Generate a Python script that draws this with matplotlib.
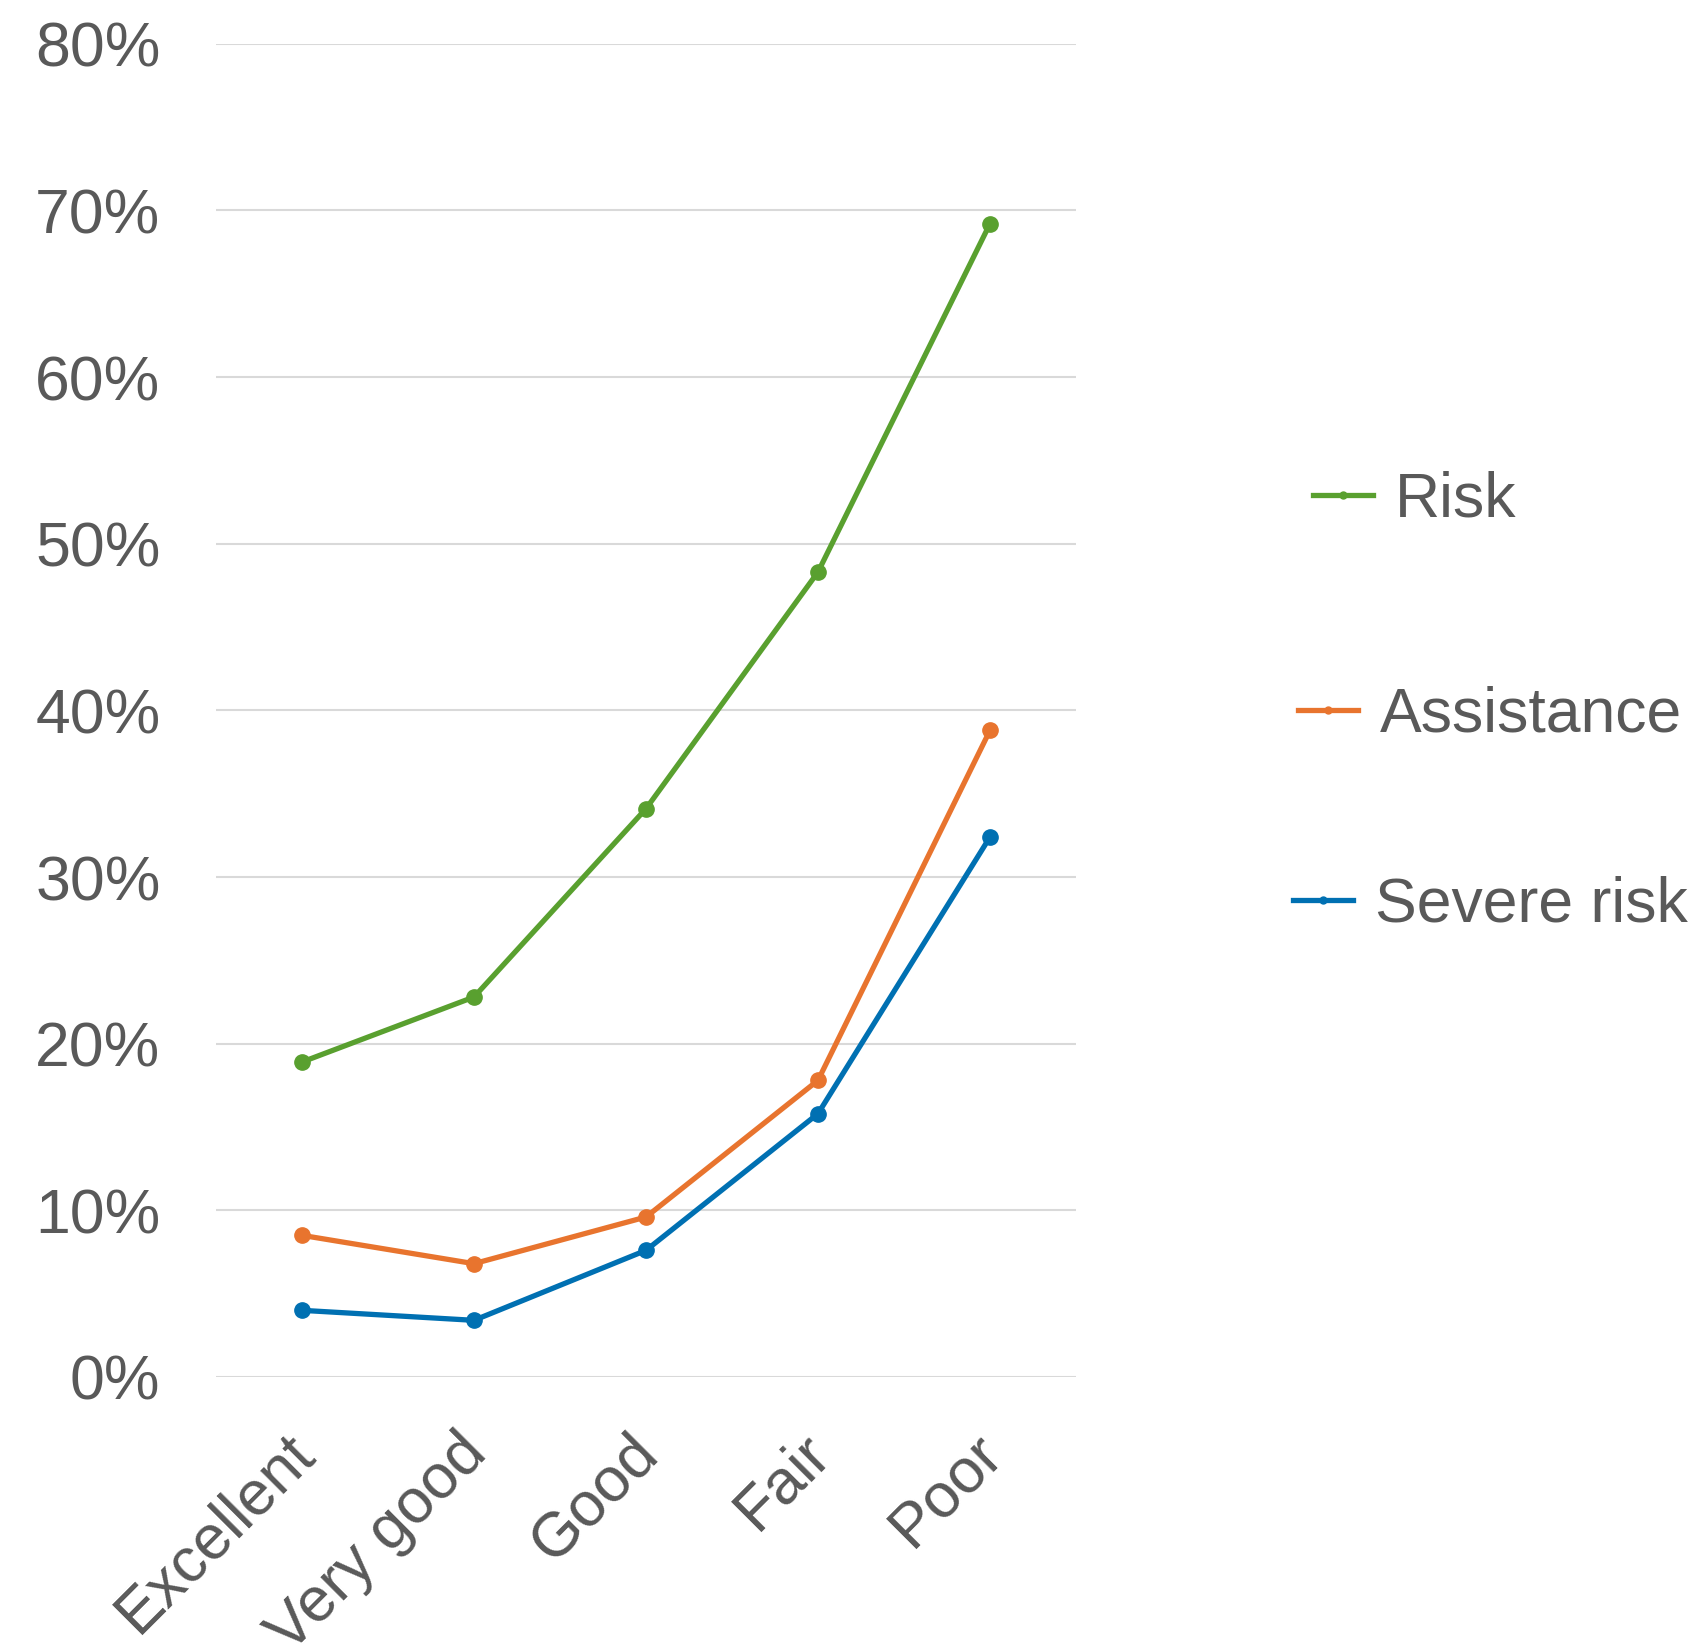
import matplotlib
matplotlib.use("Agg")
import matplotlib.pyplot as plt
from matplotlib.lines import Line2D
from matplotlib.ticker import FuncFormatter, MultipleLocator
import matplotlib.transforms as mtransforms

categories = ["Excellent", "Very good", "Good", "Fair", "Poor"]
risk = [18.9, 22.8, 34.1, 48.3, 69.2]
assistance = [8.5, 6.8, 9.6, 17.8, 38.8]
severe_risk = [4.0, 3.4, 7.6, 15.8, 32.4]

series = [
    ("Risk", risk, "#59A02F"),
    ("Assistance", assistance, "#E8742E"),
    ("Severe risk", severe_risk, "#0070B2"),
]

plt.rcParams['font.family'] = ['Liberation Sans', 'DejaVu Sans']
text_color = "#595959"

fig = plt.figure(figsize=(17.02, 16.51), dpi=100)
ax = fig.add_axes([216/1702, 1-1377/1651, (1076-216)/1702, (1377-43.7)/1651])

x = list(range(len(categories)))
for name, vals, col in series:
    ax.plot(x, vals, color=col, lw=3.8, marker='o', markersize=11,
            solid_capstyle='round', label=name, zorder=3)

ax.set_xlim(-0.5, len(categories)-0.5)
ax.set_ylim(0, 80)
ax.yaxis.set_major_locator(MultipleLocator(10))
ax.yaxis.set_major_formatter(FuncFormatter(lambda v, p: f"{int(round(v))}%"))
ax.grid(axis='y', color='#D9D9D9', lw=1.5, zorder=0)
ax.set_axisbelow(True)
for s in ax.spines.values():
    s.set_visible(False)
ax.tick_params(axis='y', length=0, pad=40, labelsize=45, labelcolor=text_color)
ax.tick_params(axis='x', length=0, pad=48, labelsize=45, labelcolor=text_color)
ax.set_xticks(x)
ax.set_xticklabels(categories, rotation=45, rotation_mode='anchor', ha='right', va='center')
offset = mtransforms.ScaledTranslation(3/100, 0, fig.dpi_scale_trans)
for lab in ax.get_xticklabels():
    lab.set_transform(lab.get_transform() + offset)

legend_pos = [(1313, 500), (1298, 715), (1293, 905)]
for (name, vals, col), (px, py) in zip(series, legend_pos):
    h = Line2D([], [], color=col, lw=3.8, marker='o', markersize=5)
    fig.legend([h], [name], loc='center left', bbox_to_anchor=(px/1702, 1-py/1651),
               frameon=False, fontsize=45, handlelength=0.96, handletextpad=0.35,
               borderpad=0, borderaxespad=0, labelcolor=text_color)

fig.savefig("out.png", dpi=100, facecolor='white')
